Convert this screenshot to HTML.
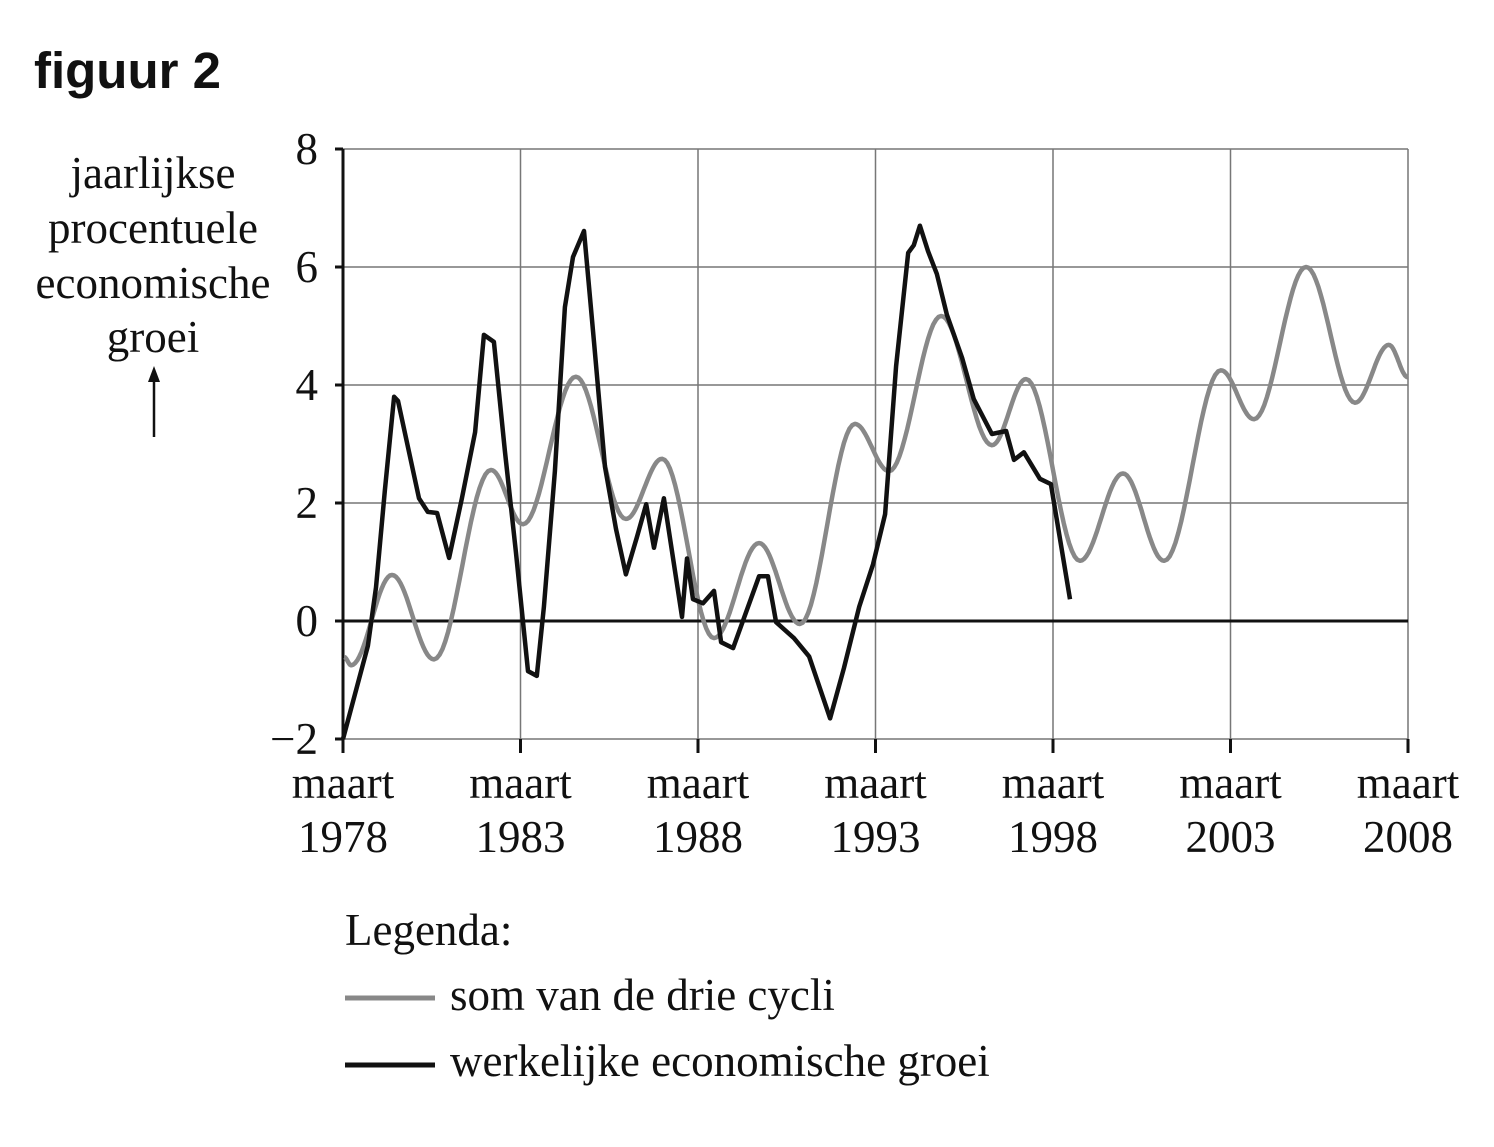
<!DOCTYPE html>
<html><head><meta charset="utf-8">
<style>
body{margin:0;background:#fff;width:1494px;height:1147px;overflow:hidden}
svg{display:block}
.serif{font-family:"Liberation Serif",serif;fill:#111}
</style></head><body>
<svg id="chart" width="1494" height="1147">
<text x="34" y="88" font-family="Liberation Sans, sans-serif" font-weight="bold" font-size="51" fill="#111">figuur 2</text>
<g class="serif" font-size="45" text-anchor="middle">
<text x="153" y="188">jaarlijkse</text>
<text x="153" y="243">procentuele</text>
<text x="153" y="298">economische</text>
<text x="153" y="352">groei</text>
</g>
<g>
<line x1="154" y1="437" x2="154" y2="378" stroke="#111" stroke-width="2.5"/>
<polygon points="154,366 148,382 160,382" fill="#111"/>
</g>
<g id="grid"></g>
<g id="axes"></g>
<g id="series"></g>
<g class="serif" font-size="45">
<text x="345" y="945">Legenda:</text>
<line x1="345" y1="998" x2="435" y2="998" stroke="#888" stroke-width="5"/>
<text x="450" y="1010">som van de drie cycli</text>
<line x1="345" y1="1065" x2="435" y2="1065" stroke="#111" stroke-width="5"/>
<text x="450" y="1076">werkelijke economische groei</text>
</g>
</svg>
<script>
const xTicks=[1978,1983,1988,1993,1998,2003,2008];
const yTicks=[-2,0,2,4,6,8];
const yTickLabels=["\u22122","0","2","4","6","8"];
const grayYears=[1978.03,1978.23,1979.38,1980.56,1982.17,1983.07,1984.56,1985.97,1986.99,1988.45,1989.72,1990.87,1992.42,1993.38,1994.85,1996.28,1997.24,1998.76,1999.97,2001.13,2002.73,2003.66,2005.13,2006.51,2007.46,2008.0];
const grayValues=[-0.61,-0.75,0.78,-0.65,2.56,1.64,4.14,1.73,2.75,-0.29,1.32,-0.05,3.34,2.54,5.17,2.98,4.1,1.02,2.5,1.02,4.25,3.42,6.0,3.7,4.68,4.13];
const blackYears=[1978.0,1978.70,1978.93,1979.18,1979.44,1979.55,1980.14,1980.39,1980.65,1980.99,1981.35,1981.72,1981.97,1982.25,1982.56,1982.87,1983.21,1983.46,1983.66,1983.97,1984.25,1984.48,1984.79,1985.07,1985.38,1985.69,1985.97,1986.28,1986.54,1986.76,1987.04,1987.55,1987.69,1987.86,1988.14,1988.45,1988.65,1988.99,1989.72,1989.97,1990.20,1990.70,1991.13,1991.72,1992.11,1992.54,1992.93,1993.27,1993.58,1993.92,1994.08,1994.25,1994.48,1994.73,1995.01,1995.44,1995.77,1996.28,1996.68,1996.90,1997.18,1997.63,1997.94,1998.48];
const blackValues=[-2.0,-0.42,0.57,2.22,3.8,3.73,2.08,1.85,1.83,1.07,2.08,3.2,4.85,4.73,2.88,1.17,-0.85,-0.93,0.24,2.54,5.32,6.17,6.61,4.73,2.61,1.56,0.79,1.42,1.98,1.24,2.08,0.07,1.06,0.37,0.3,0.51,-0.36,-0.46,0.76,0.76,-0.02,-0.29,-0.6,-1.65,-0.8,0.24,0.96,1.81,4.32,6.24,6.37,6.7,6.27,5.88,5.19,4.46,3.76,3.17,3.22,2.73,2.86,2.41,2.32,0.37];

const X=y=>343+(y-1978)*35.5;
const Y=v=>621-v*59;
const NS="http://www.w3.org/2000/svg";
function mk(tag,attrs,parent){const e=document.createElementNS(NS,tag);for(const k in attrs)e.setAttribute(k,attrs[k]);parent.appendChild(e);return e;}
const grid=document.getElementById('grid'),axes=document.getElementById('axes'),series=document.getElementById('series');
const x0=X(1978),x1=X(2008),yTop=Y(8),yBot=Y(-2);
xTicks.forEach((t,i)=>{
  const l=mk('line',{x1:X(t),x2:X(t),y1:yTop,y2:yBot,stroke:'#777','stroke-width':1.5},grid);
  
  
  const tk=mk('line',{x1:X(t),x2:X(t),y1:yBot,y2:yBot+14,stroke:'#111','stroke-width':3},axes);
  
  
  const t1=mk('text',{x:X(t),y:798,'text-anchor':'middle','class':'serif','font-size':45},axes);
  t1.textContent='maart';
  
  
  const t2=mk('text',{x:X(t),y:852,'text-anchor':'middle','class':'serif','font-size':45},axes);
  t2.textContent=String(t);
  
  
});
yTicks.forEach((v,i)=>{
  const l=mk('line',{x1:x0,x2:x1,y1:Y(v),y2:Y(v),stroke:v===0?'#111':'#777','stroke-width':v===0?3:1.5},grid);
  
  
  const tk=mk('line',{x1:x0-8,x2:x0,y1:Y(v),y2:Y(v),stroke:'#111','stroke-width':3},axes);
  
  
  const t=mk('text',{x:318,y:Y(v)+15,'text-anchor':'end','class':'serif','font-size':45},axes);
  t.textContent=yTickLabels[i];
  
  
});
const ya=mk('line',{x1:x0,x2:x0,y1:yTop,y2:yBot+14,stroke:'#111','stroke-width':3},axes);


let d='';
for(let i=0;i<grayYears.length-1;i++){
  const a=grayYears[i],b=grayYears[i+1],va=grayValues[i],vb=grayValues[i+1];
  for(let s=0;s<=20;s++){const f=s/20;const m=(1-Math.cos(Math.PI*f))/2;const xx=X(a+(b-a)*f),yy=Y(va+(vb-va)*m);d+=(d?'L':'M')+xx.toFixed(1)+','+yy.toFixed(1);}
}
const g=mk('path',{d:d,fill:'none',stroke:'#888','stroke-width':4.5,'stroke-linejoin':'round'},series);


let d2=blackYears.map((y,i)=>(i?'L':'M')+X(y).toFixed(1)+','+Y(blackValues[i]).toFixed(1)).join('');
const b=mk('path',{d:d2,fill:'none',stroke:'#111','stroke-width':4.5,'stroke-linejoin':'round'},series);


</script>
</body></html>
